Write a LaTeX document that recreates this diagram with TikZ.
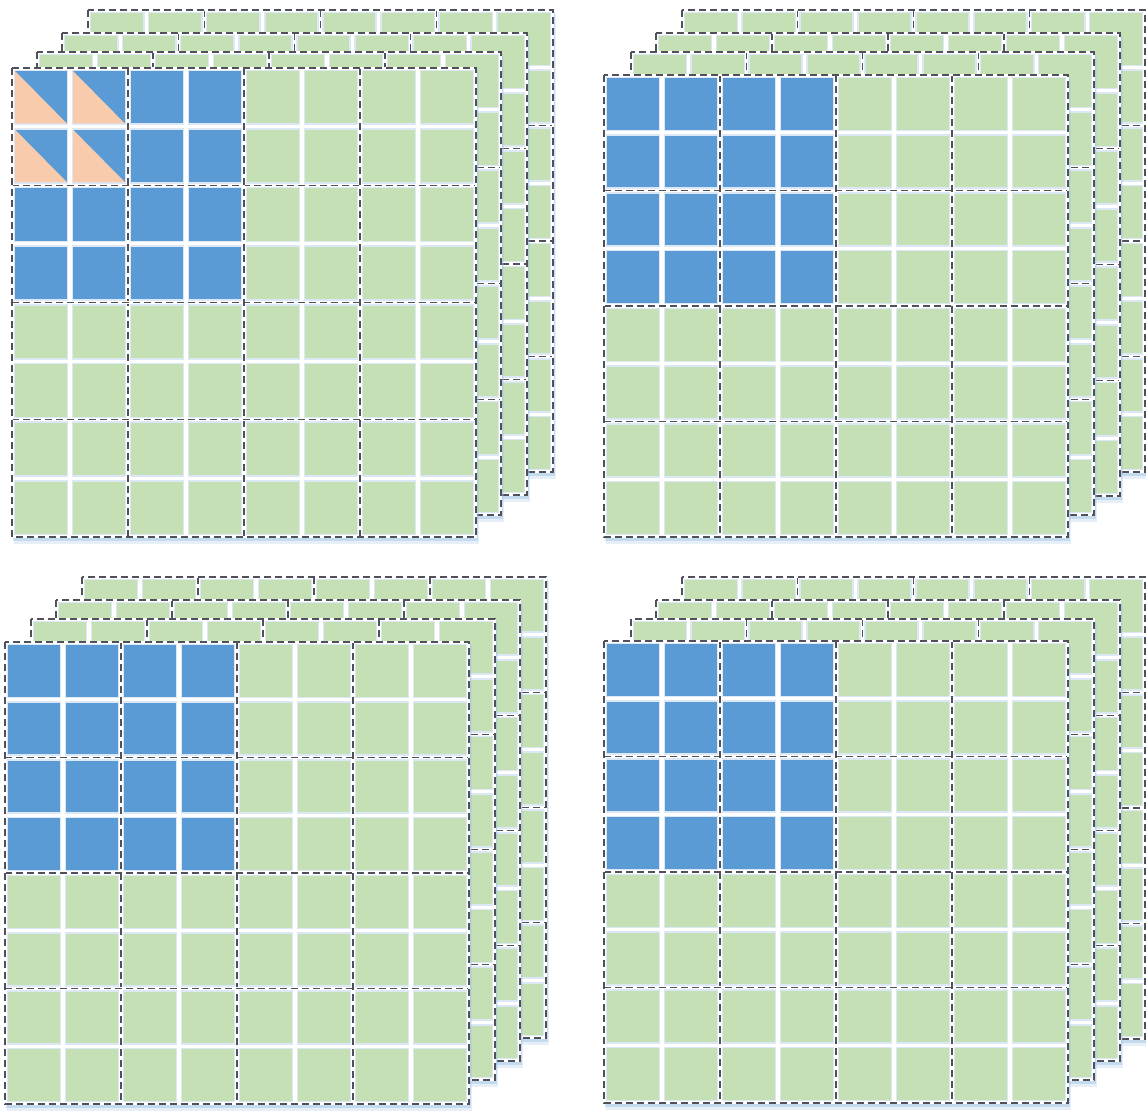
\documentclass[tikz,border=0pt]{standalone}
\definecolor{cgreen}{HTML}{C5E0B4}
\definecolor{cblue}{HTML}{5B9BD5}
\definecolor{cpeach}{HTML}{F8CBAD}
\definecolor{cglow}{HTML}{DCE8F5}
\definecolor{cshadow}{HTML}{9DC3E6}
\definecolor{cdash}{HTML}{50505A}
\tikzset{
  gridline/.style={cdash, line width=1.2pt, dash pattern=on 7pt off 4pt},
  gridback/.style={white, line width=2.6pt},
  layershadow/.style={cshadow, opacity=0.45},
}
% #1 x, #2 y, #3 w, #4 h, #5 mode (0 green, 1 blue block, 2 blue block + triangles)
\newcommand{\drawlayer}[5]{%
  \fill[layershadow] (#1+1,#2+2) rectangle (#1+#3+2,#2+#4+4);
  \fill[layershadow, opacity=0.25] (#1+2,#2+4) rectangle (#1+#3+3,#2+#4+7);
  \fill[white] (#1,#2) rectangle (#1+#3,#2+#4);
  \foreach \i in {0,...,7}{
    \foreach \j in {0,...,7}{
      \def\cellcol{cgreen}%
      \ifnum#5>0 \ifnum\i<4 \ifnum\j<4 \def\cellcol{cblue}\fi\fi\fi
      \pgfmathsetmacro\xa{#1+\i*#3/8+3.2}%
      \pgfmathsetmacro\xb{#1+(\i+1)*#3/8-3.2}%
      \pgfmathsetmacro\ya{#2+\j*#4/8+3.2}%
      \pgfmathsetmacro\yb{#2+(\j+1)*#4/8-3.2}%
      \fill[cglow] (\xa-1.6,\ya-1.6) rectangle (\xb+1.6,\yb+1.6);
      \fill[\cellcol] (\xa,\ya) rectangle (\xb,\yb);
      \ifnum#5>1 \ifnum\i<2 \ifnum\j<2
        \fill[cpeach] (\xa,\ya) -- (\xa,\yb) -- (\xb,\yb) -- cycle;
      \fi\fi\fi
    }
  }
  \foreach \k in {1,2,3}{
    \draw[gridback] (#1+\k*#3/4,#2) -- (#1+\k*#3/4,#2+#4);
    \draw[gridback] (#1,#2+\k*#4/4) -- (#1+#3,#2+\k*#4/4);
    \draw[gridline] (#1+\k*#3/4,#2) -- (#1+\k*#3/4,#2+#4);
    \draw[gridline] (#1,#2+\k*#4/4) -- (#1+#3,#2+\k*#4/4);
  }
  \draw[gridback] (#1,#2) rectangle (#1+#3,#2+#4);
  \draw[gridline] (#1,#2) rectangle (#1+#3,#2+#4);
}
\begin{document}
\begin{tikzpicture}[x=1pt,y=-1pt]
\useasboundingbox (0,0) rectangle (1146,1112);
\fill[white] (0,0) rectangle (1146,1112);
% top-left panel
\drawlayer{88}{10}{465}{462}{0}
\drawlayer{62}{33}{465}{462}{0}
\drawlayer{37}{52}{464}{463}{0}
\drawlayer{12}{68}{464}{469}{2}
% top-right panel
\drawlayer{682}{10}{463}{462}{0}
\drawlayer{656}{33}{464}{463}{0}
\drawlayer{631}{52}{463}{463}{0}
\drawlayer{604}{75}{464}{462}{1}
% bottom-left panel
\drawlayer{82}{577}{464}{461}{0}
\drawlayer{56}{600}{464}{461}{0}
\drawlayer{31}{619}{464}{461}{0}
\drawlayer{5}{642}{464}{462}{1}
% bottom-right panel
\drawlayer{682}{577}{463}{462}{0}
\drawlayer{656}{600}{464}{461}{0}
\drawlayer{631}{619}{463}{461}{0}
\drawlayer{604}{641}{464}{462}{1}
\end{tikzpicture}
\end{document}
